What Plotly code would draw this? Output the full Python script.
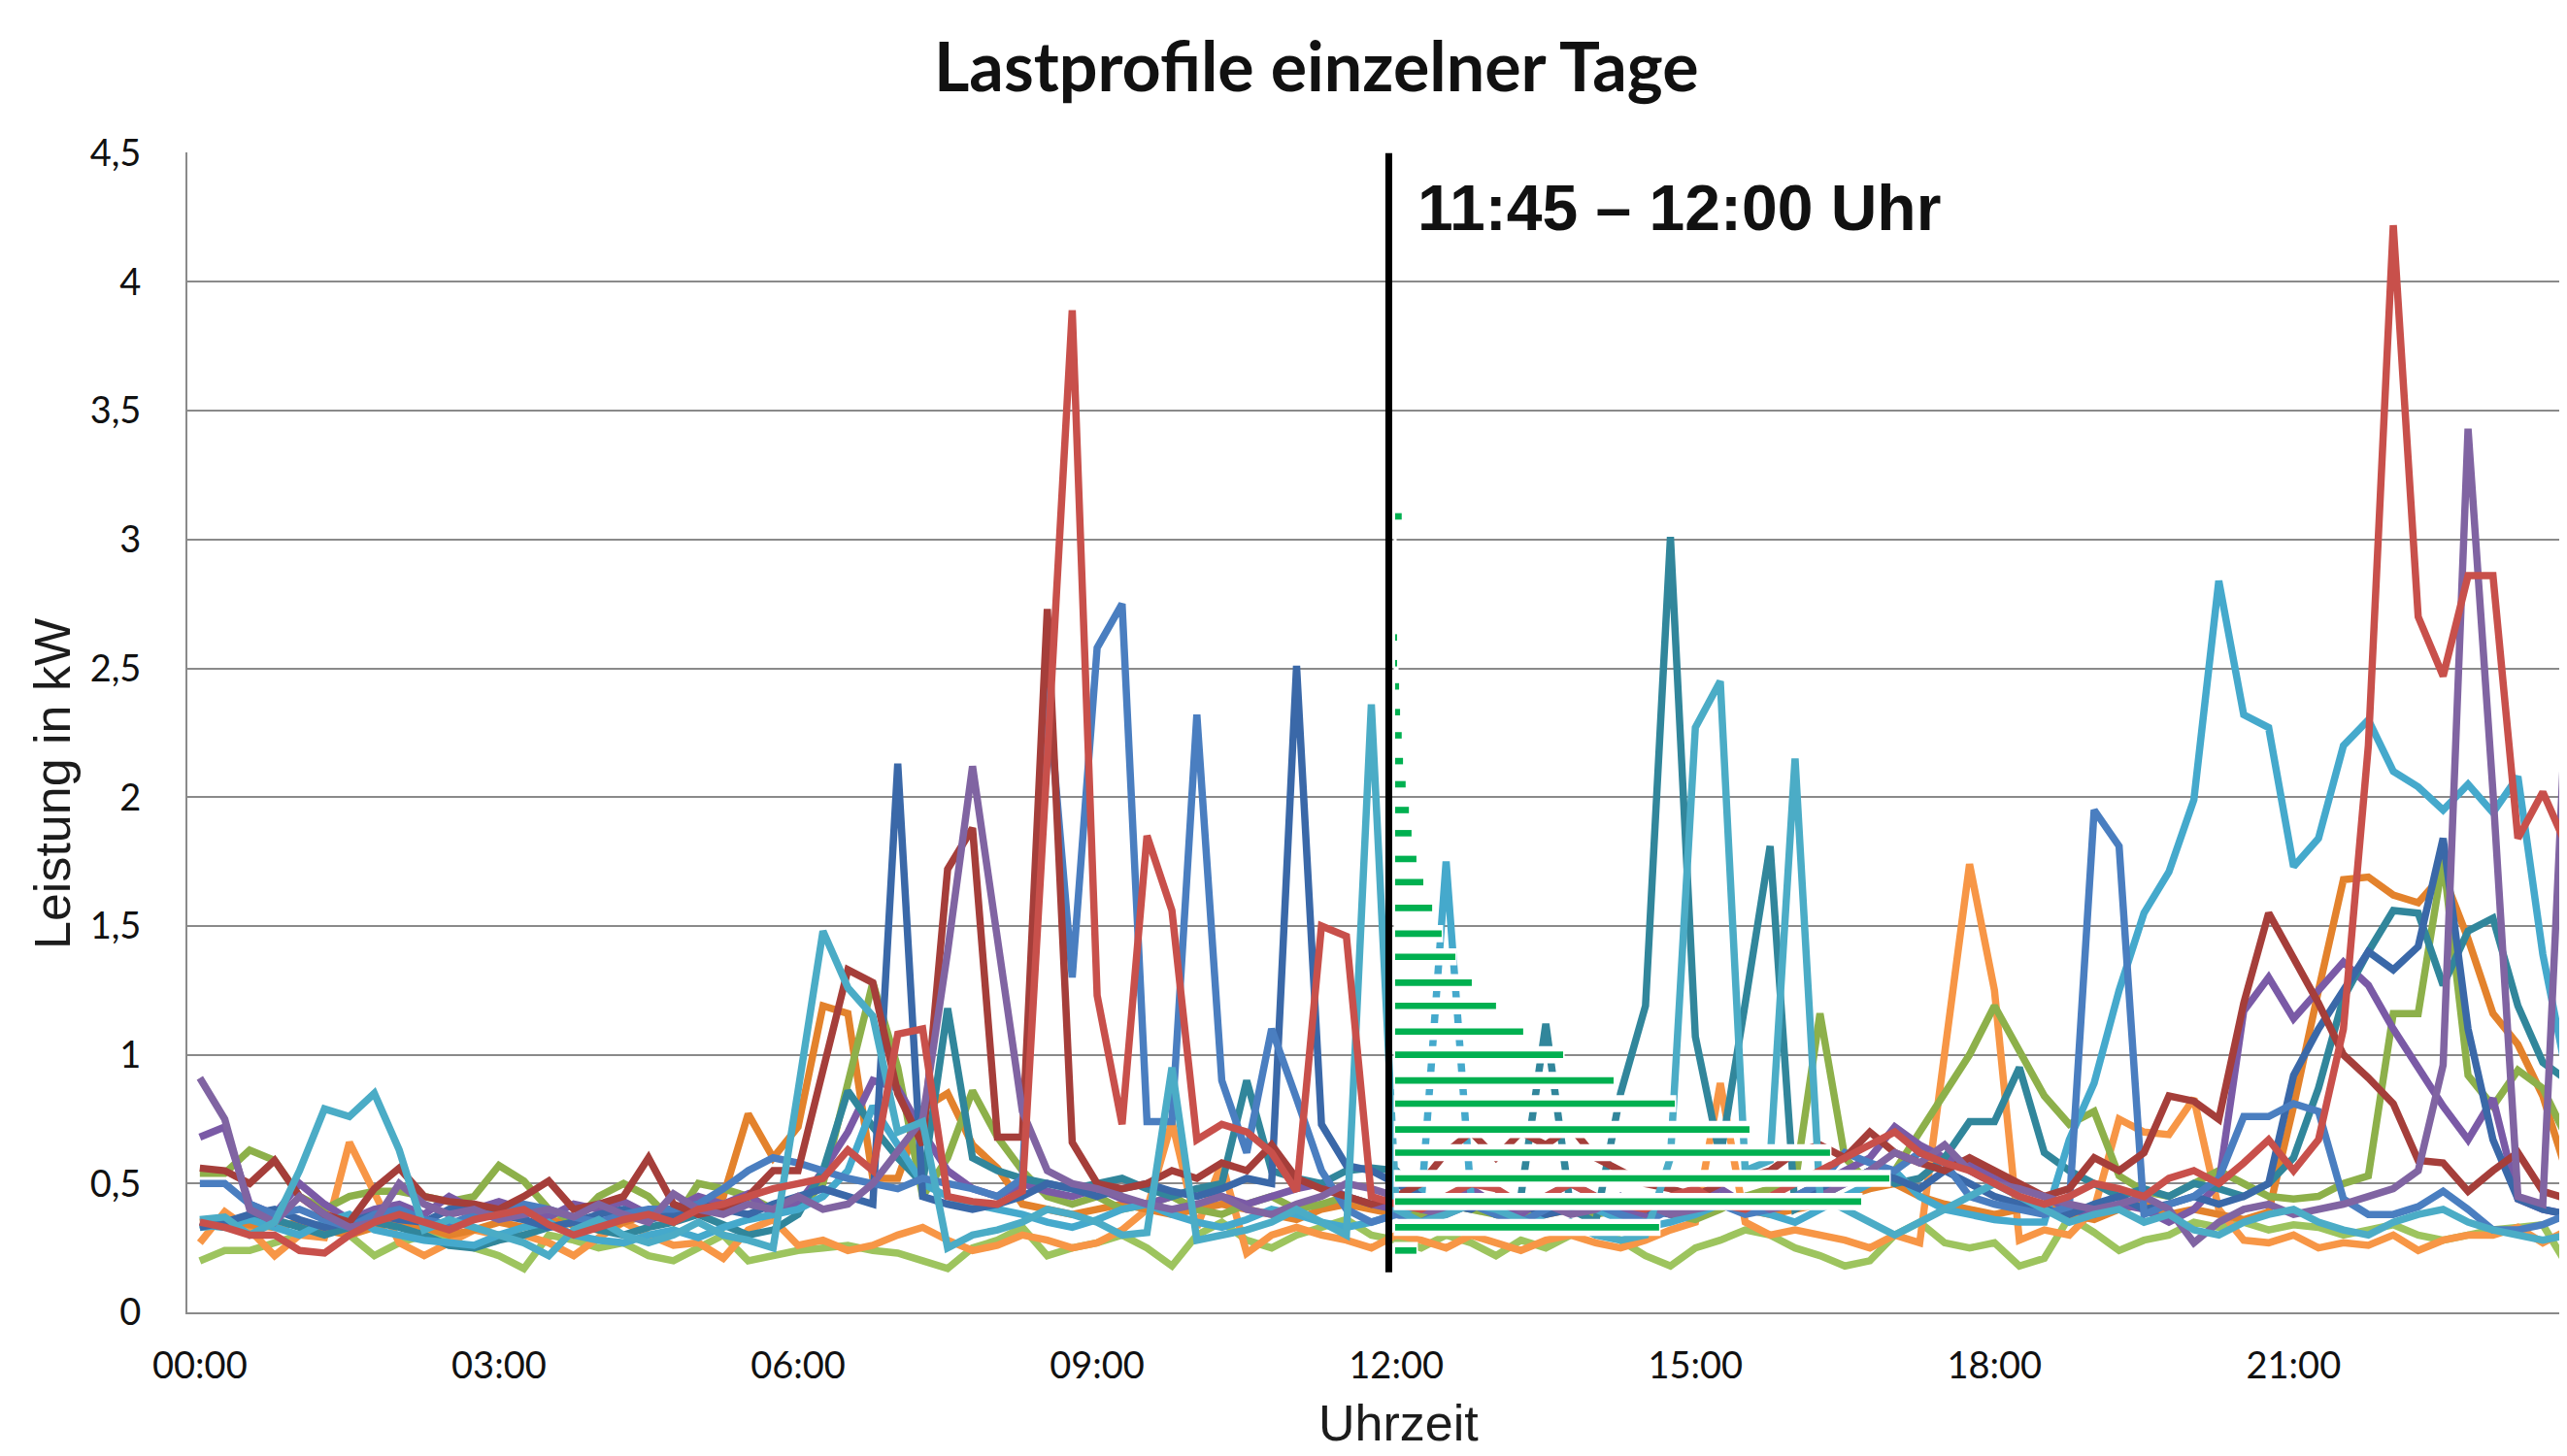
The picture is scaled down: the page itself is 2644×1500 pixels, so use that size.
import plotly.graph_objects as go

# ---------------- data ----------------
ZEIT = [f"{h:02d}:{m:02d}" for h in range(24) for m in (0, 15, 30, 45)]
X_TICKS = ["00:00", "03:00", "06:00", "09:00", "12:00", "15:00", "18:00", "21:00"]
Y_TICKS = [0, 0.5, 1, 1.5, 2, 2.5, 3, 3.5, 4, 4.5]

blau = [0.50, 0.50, 0.42, 0.38, 0.40, 0.36, 0.33, 0.38,
        0.40, 0.36, 0.34, 0.38, 0.40, 0.42, 0.40, 0.37,
        0.35, 0.38, 0.40, 0.40, 0.42, 0.48, 0.55, 0.60,
        0.58, 0.55, 0.52, 0.50, 0.48, 0.52, 0.50, 0.48,
        0.45, 0.52, 2.44, 1.30, 2.58, 2.75, 0.74, 0.74,
        2.32, 0.90, 0.62, 1.10, 0.83, 0.55, 0.40, 0.35,
        0.38, 0.35, 0.40, 0.42, 0.38, 0.35, 0.40, 0.45,
        0.42, 0.38, 0.35, 0.40, 0.45, 0.42, 0.38, 0.40,
        0.45, 0.50, 0.62, 0.58, 0.55, 0.62, 0.58, 0.45,
        0.42, 0.40, 0.38, 0.41, 1.95, 1.81, 0.38, 0.42,
        0.45, 0.52, 0.76, 0.76, 0.81, 0.78, 0.44, 0.38,
        0.38, 0.41, 0.47, 0.40, 0.32, 0.32, 0.34, 0.38]

dunkelblau = [0.33, 0.35, 0.38, 0.40, 0.36, 0.33, 0.35, 0.38,
              0.36, 0.35, 0.40, 0.42, 0.38, 0.36, 0.33, 0.35,
              0.38, 0.40, 0.36, 0.38, 0.42, 0.40, 0.38, 0.42,
              0.45, 0.48, 0.45, 0.42, 2.13, 0.45, 0.42, 0.40,
              0.42, 0.45, 0.50, 0.48, 0.45, 0.48, 0.50, 0.47,
              0.45, 0.48, 0.52, 0.50, 2.51, 0.73, 0.57, 0.55,
              0.50, 0.45, 0.42, 0.40, 0.45, 0.42, 0.38, 0.40,
              0.42, 0.45, 0.40, 0.38, 0.42, 0.45, 0.40, 0.42,
              0.45, 0.48, 0.50, 0.55, 0.52, 0.48, 0.55, 0.50,
              0.45, 0.42, 0.40, 0.38, 0.42, 0.45, 0.40, 0.42,
              0.45, 0.42, 0.45, 0.50, 0.92, 1.10, 1.25, 1.40,
              1.33, 1.42, 1.84, 1.10, 0.67, 0.44, 0.40, 0.38]

rot = [0.35, 0.33, 0.30, 0.30, 0.24, 0.23, 0.30, 0.35,
       0.38, 0.35, 0.32, 0.36, 0.38, 0.40, 0.34, 0.30,
       0.33, 0.36, 0.38, 0.35, 0.40, 0.42, 0.45, 0.48,
       0.50, 0.52, 0.63, 0.55, 1.08, 1.10, 0.45, 0.43,
       0.42, 0.47, 2.15, 3.89, 1.23, 0.73, 1.85, 1.56,
       0.67, 0.73, 0.70, 0.62, 0.47, 1.50, 1.46, 0.45,
       0.42, 0.40, 0.45, 0.50, 0.48, 0.42, 0.45, 0.50,
       0.45, 0.42, 0.40, 0.45, 0.48, 0.42, 0.40, 0.45,
       0.50, 0.55, 0.60, 0.65, 0.70, 0.62, 0.58, 0.55,
       0.50, 0.45, 0.42, 0.45, 0.50, 0.48, 0.45, 0.52,
       0.55, 0.50, 0.58, 0.67, 0.55, 0.67, 1.10, 2.20,
       4.22, 2.70, 2.47, 2.86, 2.86, 1.84, 2.02, 1.80]

dunkelrot = [0.56, 0.55, 0.50, 0.59, 0.45, 0.38, 0.35, 0.48,
             0.56, 0.45, 0.43, 0.42, 0.40, 0.45, 0.51, 0.40,
             0.42, 0.45, 0.60, 0.42, 0.38, 0.40, 0.45, 0.55,
             0.55, 0.95, 1.33, 1.28, 0.85, 0.65, 1.72, 1.88,
             0.68, 0.68, 2.73, 0.66, 0.50, 0.48, 0.50, 0.55,
             0.52, 0.58, 0.55, 0.65, 0.52, 0.48, 0.45, 0.42,
             0.45, 0.50, 0.62, 0.70, 0.60, 0.70, 0.65, 0.72,
             0.60, 0.55, 0.50, 0.48, 0.45, 0.50, 0.52, 0.55,
             0.62, 0.65, 0.60, 0.70, 0.62, 0.58, 0.55, 0.60,
             0.55, 0.50, 0.45, 0.48, 0.60, 0.55, 0.62, 0.84,
             0.82, 0.75, 1.20, 1.55, 1.37, 1.20, 1.00, 0.91,
             0.81, 0.59, 0.58, 0.47, 0.55, 0.62, 0.47, 0.44]

lila = [0.91, 0.75, 0.40, 0.35, 0.45, 0.38, 0.33, 0.35,
        0.50, 0.42, 0.38, 0.40, 0.36, 0.38, 0.40, 0.37,
        0.42, 0.38, 0.35, 0.46, 0.40, 0.38, 0.42, 0.40,
        0.45, 0.40, 0.42, 0.50, 0.62, 0.75, 1.40, 2.12,
        1.45, 0.78, 0.55, 0.50, 0.48, 0.45, 0.42, 0.40,
        0.42, 0.45, 0.40, 0.38, 0.42, 0.45, 0.50, 0.48,
        0.45, 0.40, 0.38, 0.42, 0.45, 0.40, 0.42, 0.38,
        0.40, 0.45, 0.42, 0.38, 0.40, 0.42, 0.45, 0.40,
        0.42, 0.45, 0.50, 0.55, 0.62, 0.58, 0.65, 0.55,
        0.50, 0.48, 0.45, 0.42, 0.40, 0.42, 0.45, 0.40,
        0.27, 0.35, 0.40, 0.42, 0.38, 0.40, 0.42, 0.45,
        0.48, 0.55, 0.96, 3.43, 2.02, 0.45, 0.42, 2.51]

lila2 = [0.68, 0.72, 0.42, 0.38, 0.50, 0.42, 0.36, 0.40,
         0.42, 0.38, 0.45, 0.40, 0.43, 0.40, 0.37, 0.42,
         0.40, 0.43, 0.38, 0.40, 0.45, 0.42, 0.46, 0.38,
         0.42, 0.55, 0.70, 0.90, 0.87, 0.70, 0.55, 0.48,
         0.45, 0.50, 0.47, 0.45, 0.48, 0.44, 0.42, 0.45,
         0.48, 0.45, 0.42, 0.45, 0.48, 0.50, 0.45, 0.42,
         0.40, 0.42, 0.45, 0.48, 0.42, 0.38, 0.45, 0.50,
         0.45, 0.40, 0.38, 0.42, 0.45, 0.48, 0.42, 0.40,
         0.45, 0.50, 0.55, 0.60, 0.72, 0.65, 0.60, 0.58,
         0.52, 0.48, 0.45, 0.40, 0.38, 0.42, 0.40, 0.35,
         0.40, 0.50, 1.17, 1.30, 1.14, 1.25, 1.36, 1.27,
         1.10, 0.95, 0.80, 0.67, 0.83, 0.44, 0.40, 0.38]

tuerkis = [0.36, 0.37, 0.30, 0.35, 0.55, 0.79, 0.76, 0.85,
           0.63, 0.32, 0.36, 0.33, 0.30, 0.27, 0.22, 0.32,
           0.36, 0.30, 0.27, 0.30, 0.35, 0.30, 0.28, 0.25,
           0.86, 1.48, 1.26, 1.15, 0.70, 0.74, 0.25, 0.30,
           0.32, 0.35, 0.40, 0.38, 0.35, 0.30, 0.31, 0.95,
           0.28, 0.30, 0.32, 0.35, 0.40, 0.35, 0.30, 2.36,
           0.40, 0.35, 0.38, 0.42, 0.40, 0.36, 0.32, 0.35,
           0.30, 0.28, 0.30, 0.60, 2.27, 2.45, 0.55, 0.59,
           2.15, 0.45, 0.40, 0.35, 0.30, 0.35, 0.40, 0.45,
           0.50, 0.45, 0.40, 0.35, 0.38, 0.40, 0.35, 0.38,
           0.32, 0.30, 0.35, 0.38, 0.40, 0.35, 0.32, 0.30,
           0.35, 0.38, 0.40, 0.35, 0.32, 0.30, 0.28, 0.30]

tuerkis2 = [0.33, 0.34, 0.36, 0.33, 0.30, 0.35, 0.38, 0.32,
            0.30, 0.28, 0.27, 0.26, 0.30, 0.33, 0.35, 0.30,
            0.28, 0.27, 0.30, 0.32, 0.29, 0.33, 0.36, 0.38,
            0.40, 0.45, 0.55, 0.80, 0.65, 0.50, 0.45, 0.42,
            0.40, 0.38, 0.35, 0.33, 0.36, 0.40, 0.42, 0.38,
            0.35, 0.33, 0.36, 0.40, 0.38, 0.35, 0.33, 0.35,
            0.38, 0.42, 1.75, 0.45, 0.40, 0.35, 0.38, 0.42,
            0.40, 0.36, 0.33, 0.35, 0.38, 0.42, 0.40, 0.38,
            0.35, 0.40, 0.45, 0.50, 0.55, 0.45, 0.40, 0.38,
            0.36, 0.35, 0.35, 0.67, 0.89, 1.25, 1.55, 1.71,
            1.99, 2.84, 2.32, 2.27, 1.73, 1.84, 2.20, 2.30,
            2.10, 2.04, 1.95, 2.05, 1.94, 2.08, 1.39, 0.90]

dunkeltuerkis = [0.34, 0.33, 0.38, 0.36, 0.33, 0.30, 0.33, 0.35,
                 0.33, 0.30, 0.26, 0.25, 0.28, 0.30, 0.33, 0.35,
                 0.32, 0.30, 0.33, 0.35, 0.38, 0.34, 0.30, 0.32,
                 0.38, 0.55, 0.86, 0.72, 0.60, 0.50, 1.18, 0.60,
                 0.55, 0.52, 0.50, 0.48, 0.50, 0.52, 0.48, 0.45,
                 0.48, 0.50, 0.90, 0.55, 0.52, 0.50, 0.55, 0.56,
                 0.55, 0.45, 0.40, 0.42, 0.38, 0.45, 1.12, 0.40,
                 0.35, 0.85, 1.19, 3.01, 1.07, 0.60, 1.20, 1.81,
                 0.40, 0.45, 0.50, 0.55, 0.50, 0.52, 0.60, 0.74,
                 0.74, 0.95, 0.62, 0.55, 0.50, 0.45, 0.48, 0.45,
                 0.50, 0.48, 0.45, 0.50, 0.60, 0.87, 1.22, 1.40,
                 1.56, 1.55, 1.27, 1.48, 1.53, 1.19, 0.97, 0.90]

gruen = [0.54, 0.54, 0.63, 0.59, 0.45, 0.40, 0.45, 0.47,
         0.47, 0.45, 0.43, 0.45, 0.57, 0.51, 0.40, 0.35,
         0.45, 0.50, 0.45, 0.35, 0.50, 0.48, 0.45, 0.40,
         0.40, 0.50, 0.90, 1.28, 0.95, 0.45, 0.60, 0.86,
         0.68, 0.55, 0.45, 0.42, 0.45, 0.40, 0.42, 0.45,
         0.40, 0.38, 0.42, 0.45, 0.40, 0.42, 0.45, 0.42,
         0.40, 0.38, 0.42, 0.40, 0.38, 0.36, 0.40, 0.42,
         0.38, 0.40, 0.42, 0.38, 0.36, 0.40, 0.45, 0.48,
         0.50, 1.16, 0.60, 0.50, 0.55, 0.70, 0.85, 1.00,
         1.19, 1.02, 0.84, 0.73, 0.78, 0.53, 0.47, 0.45,
         0.50, 0.55, 0.50, 0.45, 0.44, 0.45, 0.50, 0.53,
         1.16, 1.16, 1.76, 0.92, 0.80, 0.94, 0.87, 0.67]

hellgruen = [0.20, 0.24, 0.24, 0.27, 0.30, 0.34, 0.30, 0.22,
             0.27, 0.30, 0.28, 0.25, 0.22, 0.17, 0.30, 0.28,
             0.25, 0.27, 0.22, 0.20, 0.25, 0.30, 0.20, 0.22,
             0.24, 0.25, 0.26, 0.24, 0.23, 0.20, 0.17, 0.25,
             0.28, 0.33, 0.22, 0.25, 0.27, 0.30, 0.25, 0.18,
             0.30, 0.35, 0.28, 0.25, 0.30, 0.33, 0.36, 0.30,
             0.28, 0.25, 0.30, 0.27, 0.22, 0.28, 0.25, 0.30,
             0.33, 0.28, 0.22, 0.18, 0.25, 0.28, 0.32, 0.30,
             0.25, 0.22, 0.18, 0.20, 0.30, 0.35, 0.27, 0.25,
             0.27, 0.18, 0.21, 0.37, 0.31, 0.24, 0.28, 0.30,
             0.35, 0.33, 0.35, 0.32, 0.34, 0.33, 0.30, 0.32,
             0.34, 0.30, 0.28, 0.30, 0.32, 0.33, 0.34, 0.18]

orange = [0.27, 0.39, 0.32, 0.22, 0.30, 0.29, 0.66, 0.46,
          0.27, 0.22, 0.27, 0.32, 0.30, 0.30, 0.27, 0.22,
          0.29, 0.35, 0.30, 0.26, 0.27, 0.21, 0.32, 0.36,
          0.26, 0.28, 0.24, 0.26, 0.30, 0.33, 0.28, 0.24,
          0.26, 0.30, 0.28, 0.25, 0.27, 0.32, 0.40, 0.74,
          0.33, 0.58, 0.23, 0.30, 0.33, 0.30, 0.28, 0.25,
          0.30, 0.28, 0.25, 0.30, 0.27, 0.24, 0.28, 0.30,
          0.27, 0.25, 0.28, 0.32, 0.35, 0.89, 0.35, 0.30,
          0.32, 0.30, 0.28, 0.25, 0.30, 0.27, 1.00, 1.74,
          1.25, 0.28, 0.32, 0.30, 0.40, 0.75, 0.70, 0.69,
          0.83, 0.40, 0.28, 0.27, 0.30, 0.25, 0.27, 0.26,
          0.30, 0.24, 0.28, 0.30, 0.30, 0.33, 0.27, 0.32]

dunkelorange = [0.35, 0.36, 0.34, 0.33, 0.35, 0.32, 0.30, 0.33,
                0.35, 0.33, 0.30, 0.32, 0.35, 0.33, 0.36, 0.34,
                0.32, 0.35, 0.38, 0.36, 0.40, 0.45, 0.77, 0.60,
                0.72, 1.19, 1.16, 0.52, 0.52, 0.79, 0.85, 0.65,
                0.56, 0.42, 0.40, 0.38, 0.40, 0.42, 0.40, 0.38,
                0.40, 0.42, 0.40, 0.38, 0.36, 0.40, 0.42, 0.40,
                0.38, 0.36, 0.40, 0.42, 0.38, 0.35, 0.38, 0.40,
                0.42, 0.38, 0.36, 0.40, 0.42, 0.45, 0.40, 0.38,
                0.40, 0.42, 0.45, 0.48, 0.50, 0.45, 0.42, 0.40,
                0.38, 0.40, 0.42, 0.38, 0.36, 0.40, 0.42, 0.38,
                0.40, 0.38, 0.36, 0.39, 0.80, 1.25, 1.68, 1.69,
                1.62, 1.59, 1.70, 1.45, 1.16, 1.04, 0.84, 0.53]

# histogram of the 11:45-12:00 values (share of days in %)
KLASSEN_KW = [0.24, 0.33, 0.43, 0.52, 0.62, 0.71, 0.81, 0.90, 1.00, 1.09,
              1.19, 1.28, 1.38, 1.47, 1.57, 1.67, 1.76, 1.86, 1.95, 2.05,
              2.14, 2.24, 2.33, 2.43, 2.52, 2.62, 2.71, 2.81, 2.90, 3.00, 3.09]
ANTEIL_PROZENT = [0.65, 8.06, 14.23, 15.09, 13.28, 10.82, 8.54, 6.67, 5.13, 3.91,
                  3.08, 2.34, 1.84, 1.42, 1.13, 0.86, 0.65, 0.50, 0.42, 0.32,
                  0.24, 0.20, 0.15, 0.12, 0.06, 0.06, 0.0, 0.0, 0.0, 0.0, 0.20]

MARKIERUNG = 47.7        # category position of the 11:45-12:00 marker
MARKIERUNG_VON = 0.155   # kW where the marker starts

# ---------------- figure ----------------
# the page body has an 8 px default margin, so the figure is 8 px smaller
OFF = 8
W, H = 2644 - OFF, 1500 - OFF
ML, MT = 193 - OFF, 157 - OFF
PW = 2644 - 193
PH = 1352 - 157
MR = W - ML - PW
MB = H - MT - PH

serien = [
    ("hellgrün", hellgruen, "#9DC45E"),
    ("orange", orange, "#F79646"),
    ("dunkelorange", dunkelorange, "#E3822C"),
    ("grün", gruen, "#8DB04A"),
    ("lila2", lila2, "#7A5AA6"),
    ("dunkeltürkis", dunkeltuerkis, "#31869B"),
    ("türkis2", tuerkis2, "#45A9CC"),
    ("dunkelblau", dunkelblau, "#3A68A8"),
    ("blau", blau, "#4A7EC0"),
    ("dunkelrot", dunkelrot, "#A53E3A"),
    ("lila", lila, "#8064A2"),
    ("türkis", tuerkis, "#4BACC6"),
    ("rot", rot, "#C8504B"),
]

fig = go.Figure()
for name, vals, col in serien:
    fig.add_trace(go.Scatter(x=ZEIT, y=vals, mode="lines", name=name,
                             line=dict(color=col, width=7.5), showlegend=False,
                             hoverinfo="skip"))

# histogram bars (white halo + green bar), drawn on an overlaying axis
fig.add_trace(go.Bar(y=KLASSEN_KW, x=ANTEIL_PROZENT, orientation="h",
                     xaxis="x2", yaxis="y", width=0.055,
                     marker=dict(color="white", line=dict(color="white", width=3)),
                     showlegend=False, hoverinfo="skip"))
fig.add_trace(go.Bar(y=KLASSEN_KW, x=ANTEIL_PROZENT, orientation="h",
                     xaxis="x2", yaxis="y", width=0.025,
                     marker=dict(color="#00B050", line=dict(width=0)),
                     showlegend=False, hoverinfo="skip"))

# axis 2 scale: 0 % sits just right of the marker; 33.73 px per percent
px_per_pct = 33.73
x2_zero_px = 1437
x2_range = [(193 - x2_zero_px) / px_per_pct, (193 + PW - x2_zero_px) / px_per_pct]

GRID = "#8A8A8A"
TICKFONT = dict(family="Lato", size=38, color="#111111")

fig.update_layout(
    width=W, height=H,
    margin=dict(l=ML, r=MR, t=MT, b=MB, pad=0),
    paper_bgcolor="white", plot_bgcolor="white",
    separators=",.",
    barmode="overlay",
    xaxis=dict(type="category", range=[-0.5, 94.97],
               tickmode="array", tickvals=X_TICKS, ticktext=X_TICKS,
               showgrid=False, zeroline=False,
               showline=True, linecolor=GRID, linewidth=2,
               ticks="", tickfont=TICKFONT, ticklabelstandoff=20),
    xaxis2=dict(overlaying="x", range=x2_range, visible=False, side="top"),
    yaxis=dict(range=[0, 4.503], tickmode="array", tickvals=Y_TICKS,
               showgrid=True, gridcolor=GRID, gridwidth=2, zeroline=False,
               showline=True, linecolor=GRID, linewidth=2,
               ticks="", tickfont=TICKFONT, ticklabelstandoff=38),
)

fig.add_shape(type="line", xref="x", yref="y",
              x0=MARKIERUNG, x1=MARKIERUNG, y0=MARKIERUNG_VON, y1=4.5,
              line=dict(color="black", width=7), layer="above")

# helpers: convert target-screen pixels to paper coordinates
def px_x(p):
    return (p - 193) / PW

def px_y(p):
    return (1352 - p) / PH

fig.add_annotation(text="<b>Lastprofile einzelner Tage</b>", xref="paper", yref="paper",
                   x=px_x(1356), y=px_y(67), xanchor="center", yanchor="middle",
                   showarrow=False, font=dict(family="Lato", size=70, color="#111111"))
fig.add_annotation(text="<b>11:45 – 12:00 Uhr</b>", xref="paper", yref="paper",
                   x=px_x(1458), y=px_y(214), xanchor="left", yanchor="middle",
                   showarrow=False, font=dict(family="Liberation Sans", size=66, color="#111111"))
fig.add_annotation(text="Leistung in kW", xref="paper", yref="paper",
                   x=px_x(54), y=px_y(808), xanchor="center", yanchor="middle",
                   textangle=-90, showarrow=False,
                   font=dict(family="Liberation Sans", size=52, color="#1c1c1c"))
fig.add_annotation(text="Uhrzeit", xref="paper", yref="paper",
                   x=px_x(1440), y=px_y(1466), xanchor="center", yanchor="middle",
                   showarrow=False,
                   font=dict(family="Liberation Sans", size=52, color="#1c1c1c"))

fig.write_html("out.html")
